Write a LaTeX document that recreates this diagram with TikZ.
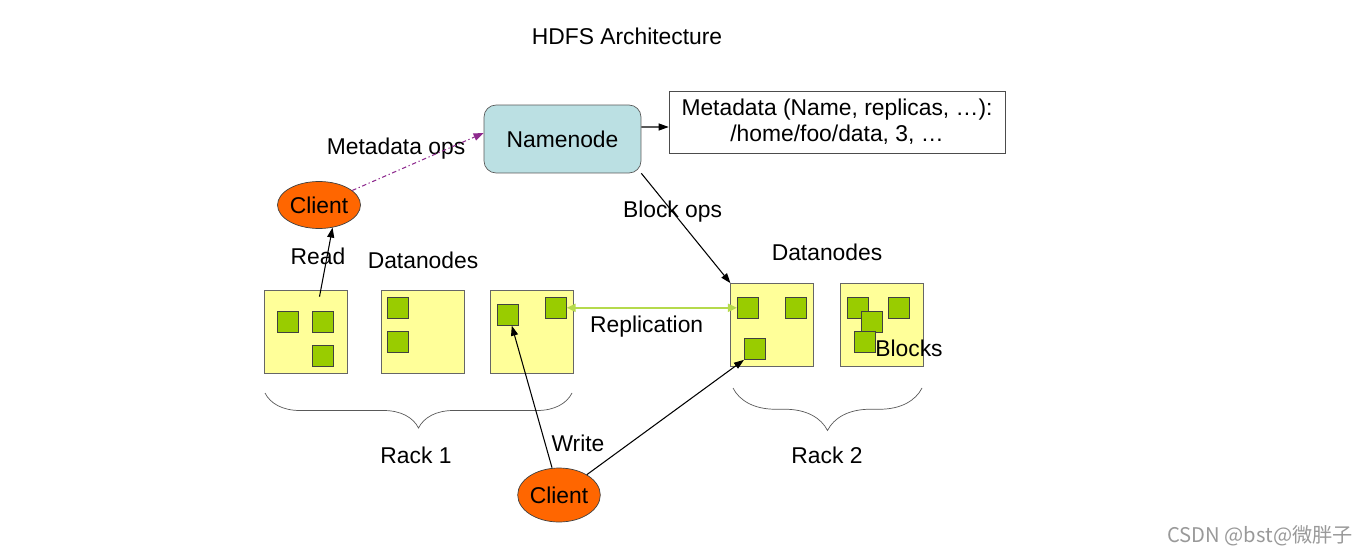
\documentclass[tikz,border=0pt]{standalone}
\usepackage{fontspec}
\setmainfont{Liberation Sans}
\newfontfamily\cjkfont{Noto Sans CJK SC}
\usetikzlibrary{arrows.meta,shapes.geometric,decorations.pathreplacing}
\definecolor{nodeblue}{HTML}{BBE0E3}
\definecolor{dnyellow}{HTML}{FFFF99}
\definecolor{blkgreen}{HTML}{99CC00}
\definecolor{clorange}{HTML}{FF6600}
\definecolor{repgreen}{HTML}{B5DA4C}
\definecolor{opspurple}{HTML}{8E2A8E}

\begin{document}
\begin{tikzpicture}[x=0.02cm,y=-0.02cm,
    font=\fontsize{13}{15.6}\selectfont,
    every node/.style={inner sep=0pt},
    namebox/.style={draw=black!65,fill=nodeblue,rounded corners=0.24cm,
      minimum width=3.14cm,minimum height=1.36cm},
    metabox/.style={draw=black!70,align=center,minimum width=6.72cm,minimum height=1.24cm},
    client/.style={ellipse,draw=black!75,fill=clorange,minimum width=1.66cm,minimum height=0.94cm},
    dnbox/.style={draw=black!60,fill=dnyellow,minimum size=1.66cm},
    blk/.style={draw=black!75,fill=blkgreen,minimum size=0.42cm},
    arr/.style={-{Triangle[length=0.2cm,width=0.14cm]}},
    rackbrace/.style={draw=black!65,decorate,decoration={brace,mirror,amplitude=#1}}]
  \useasboundingbox (0,0) rectangle (1368,554);

  \node (title) at (627,36) {HDFS Architecture};
  \node[namebox] (nn) at (562.5,139) {Namenode};
  \node[metabox] (mb) at (837,122) {Metadata (Name, replicas, \dots):\\[-1pt] /home/foo/data, 3, \dots};
  \node[client] (cl1) at (319,205) {Client};
  \node[client,minimum height=1.08cm,minimum width=1.64cm] (cl2) at (559,495) {Client};

  % rack 1
  \node[dnbox] (dn1) at (305.5,331.5) {};
  \node[dnbox] (dn2) at (422.5,331.5) {};
  \node[dnbox] (dn3) at (531.5,331.5) {};
  \node[blk] (b1a) at (288.2,321.8) {};
  \node[blk] (b1b) at (322.7,321.8) {};
  \node[blk] (b1c) at (322.7,355.7) {};
  \node[blk] (b2a) at (398.2,307.8) {};
  \node[blk] (b2b) at (398.2,342.2) {};
  \node[blk] (b3a) at (507.8,314.8) {};
  \node[blk] (b3b) at (555.8,307.8) {};

  % rack 2
  \node[dnbox] (dn4) at (772.3,325) {};
  \node[dnbox] (dn5) at (882,325) {};
  \node[blk] (b4a) at (747.8,307.8) {};
  \node[blk] (b4b) at (796.2,307.8) {};
  \node[blk] (b4c) at (754.8,349) {};
  \node[blk] (b5a) at (857.8,307.8) {};
  \node[blk] (b5b) at (899.3,307.8) {};
  \node[blk] (b5c) at (871.8,321.7) {};
  \node[blk] (b5d) at (864.8,342.3) {};

  \node (dnl1) at (423,260) {Datanodes};
  \node (dnl2) at (827,252) {Datanodes};
  \node (blocks) at (909,348) {Blocks};
  \node (read) at (318,256) {Read};
  \node (write) at (578,443) {Write};
  \node (mops) at (396,149) {Metadata ops};
  \node (rack1) at (416,455) {Rack 1};
  \node (rack2) at (827,455) {Rack 2};

  \draw[rackbrace=0.7cm] (265,393) -- (572,393);
  \draw[rackbrace=0.85cm] (733,388) -- (922,388);

  \path[line width=0.6pt]
    ([yshift=0.24cm]nn.east) edge[arr] ([yshift=-0.1cm]mb.west)
    (nn.south east) edge[arr] node[pos=0.35] {Block ops} (dn4.north west)
    ([shift={(0.28cm,-0.14cm)}]dn1.north) edge[arr] (cl1.-59)
    ([xshift=-0.14cm]cl2.north) edge[arr] ([xshift=0.08cm]b3a.south)
    (cl2) edge[arr] (b4c.south west);
  \draw[opspurple,line width=0.6pt,dash pattern=on 2.5pt off 1.5pt on 0.7pt off 1.5pt,
    -{Triangle[length=0.2cm,width=0.15cm]}] (cl1) -- ([yshift=0.12cm]nn.west);
  \draw[repgreen,line width=1.1pt,{Triangle[length=0.18cm,width=0.16cm]}-{Triangle[length=0.18cm,width=0.16cm]}]
    (b3b.east) -- node[pos=0.47,yshift=-0.38cm,text=black] {Replication} (b4a.west);

  \node[text=black!40,font=\cjkfont\fontsize{11.5}{13}\selectfont] (mark) at (1260,536) {CSDN @bst@微胖子};
\end{tikzpicture}
\end{document}
